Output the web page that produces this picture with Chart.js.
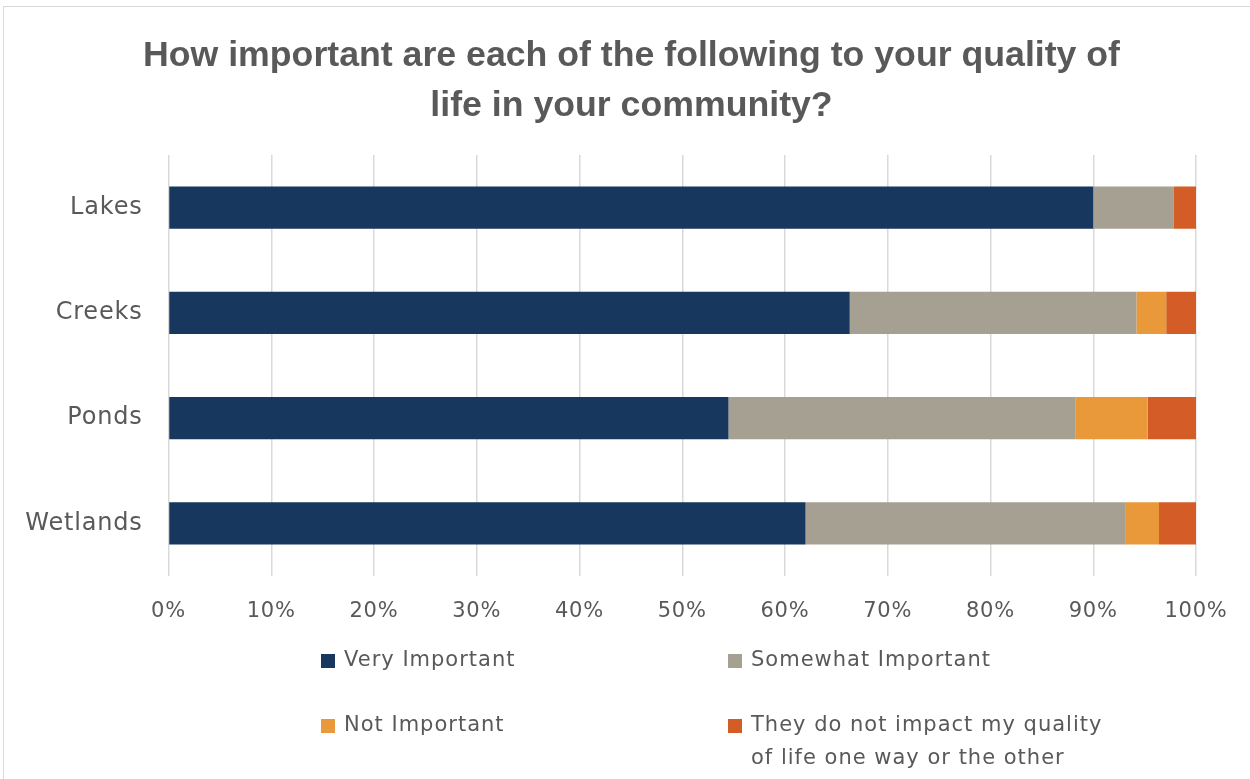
<!DOCTYPE html>
<html>
<head>
<meta charset="utf-8">
<script src="https://cdn.jsdelivr.net/npm/chart.js@4.4.1/dist/chart.umd.min.js"></script>
<style>
  html, body { margin: 0; padding: 0; background: #ffffff; }
  #wrap { width: 1250px; height: 779px; position: relative; }
</style>
</head>
<body>
<div id="wrap"><canvas id="c" width="1250" height="779"></canvas></div>
<script>
// Survey question and answers (percent of respondents per water body)
const titleLines = [
  'How important are each of the following to your quality of',
  'life in your community?'
];
const categories = ['Lakes', 'Creeks', 'Ponds', 'Wetlands'];
const seriesNames = [
  'Very Important',
  'Somewhat Important',
  'Not Important',
  'They do not impact my quality of life one way or the other'
];
const veryImportant     = [90.0, 66.3, 54.5, 62.0];
const somewhatImportant = [7.8, 27.9, 33.8, 31.1];
const notImportant      = [0.0, 2.9, 7.0, 3.3];
const noImpact          = [2.2, 2.9, 4.7, 3.6];
const tickLabels = ['0%', '10%', '20%', '30%', '40%', '50%', '60%', '70%', '80%', '90%', '100%'];

const seriesColors = ['#17375e', '#a6a092', '#e9993a', '#d35c27'];
const textColor = '#595959';
const font = '"DejaVu Sans", "Liberation Sans", sans-serif';

// White page with a thin frame around the chart; slightly open letter spacing for labels
const framePlugin = {
  id: 'frame',
  beforeDraw(chart) {
    const ctx = chart.ctx;
    ctx.save();
    ctx.fillStyle = '#ffffff';
    ctx.fillRect(0, 0, chart.width, chart.height);
    ctx.strokeStyle = '#d9d9d9';
    ctx.lineWidth = 1;
    ctx.strokeRect(3.5, 6.5, chart.width + 20, chart.height + 20);
    ctx.restore();
    ctx.letterSpacing = '0.8px';
  },
  afterDraw(chart) {
    chart.ctx.letterSpacing = '0px';
  }
};

// Two-line bold title, condensed to the title block width
const titlePlugin = {
  id: 'titleBlock',
  afterDraw(chart) {
    const ctx = chart.ctx;
    ctx.save();
    ctx.letterSpacing = '0px';
    ctx.font = 'bold 35px "Liberation Sans Narrow", "Liberation Sans", Arial, sans-serif';
    ctx.fillStyle = textColor;
    ctx.textAlign = 'center';
    ctx.textBaseline = 'alphabetic';
    const w = ctx.measureText(titleLines[0]).width;
    const sx = 977 / w;
    ctx.translate(631.5, 0);
    ctx.scale(sx, 1);
    ctx.fillText(titleLines[0], 0, 66);
    ctx.fillText(titleLines[1], 0, 116);
    ctx.restore();
  }
};

// Legend laid out in two columns, wrapping long labels
const legendPlugin = {
  id: 'gridLegend',
  afterDraw(chart) {
    const ctx = chart.ctx;
    const cols = [321, 728];
    const rows = [661, 726];
    const box = 14, textGap = 23, lineH = 33, wrapWidth = 362;
    ctx.save();
    ctx.letterSpacing = '1px';
    ctx.font = '21px ' + font;
    ctx.textBaseline = 'middle';
    ctx.textAlign = 'left';
    chart.data.datasets.forEach((ds, i) => {
      const x = cols[i % 2];
      const y = rows[Math.floor(i / 2)];
      ctx.fillStyle = ds.backgroundColor;
      ctx.fillRect(x, y - box / 2, box, box);
      const words = ds.label.split(' ');
      const lines = [];
      let cur = '';
      words.forEach(wd => {
        const test = cur ? cur + ' ' + wd : wd;
        if (cur && ctx.measureText(test).width > wrapWidth) {
          lines.push(cur);
          cur = wd;
        } else {
          cur = test;
        }
      });
      if (cur) lines.push(cur);
      ctx.fillStyle = textColor;
      lines.forEach((ln, k) => ctx.fillText(ln, x + textGap, y + k * lineH));
    });
    ctx.restore();
  }
};

const seriesData = [veryImportant, somewhatImportant, notImportant, noImpact];

new Chart(document.getElementById('c'), {
  type: 'bar',
  data: {
    labels: categories,
    datasets: seriesNames.map((name, i) => ({
      label: name,
      data: seriesData[i],
      backgroundColor: seriesColors[i],
      borderWidth: 0,
      barPercentage: 0.4,
      categoryPercentage: 1.0
    }))
  },
  options: {
    indexAxis: 'y',
    responsive: false,
    animation: false,
    devicePixelRatio: 1,
    layout: { padding: { left: 0, right: 54, top: 155, bottom: 153 } },
    plugins: {
      legend: { display: false },
      title: { display: false },
      tooltip: { enabled: false }
    },
    scales: {
      x: {
        stacked: true,
        min: 0,
        max: 100,
        afterFit(scale) { scale.height = 50; },
        ticks: {
          stepSize: 10,
          padding: 23,
          color: textColor,
          font: { family: font, size: 21 },
          callback: (v, idx) => tickLabels[idx]
        },
        grid: { color: '#d9d9d9', lineWidth: 1.5, drawTicks: false },
        border: { display: false }
      },
      y: {
        stacked: true,
        afterFit(scale) { scale.width = 168.5; },
        ticks: {
          padding: 26,
          color: textColor,
          font: { family: font, size: 24 }
        },
        grid: { display: false, drawTicks: false },
        border: { display: false }
      }
    }
  },
  plugins: [framePlugin, titlePlugin, legendPlugin]
});
</script>
</body>
</html>
